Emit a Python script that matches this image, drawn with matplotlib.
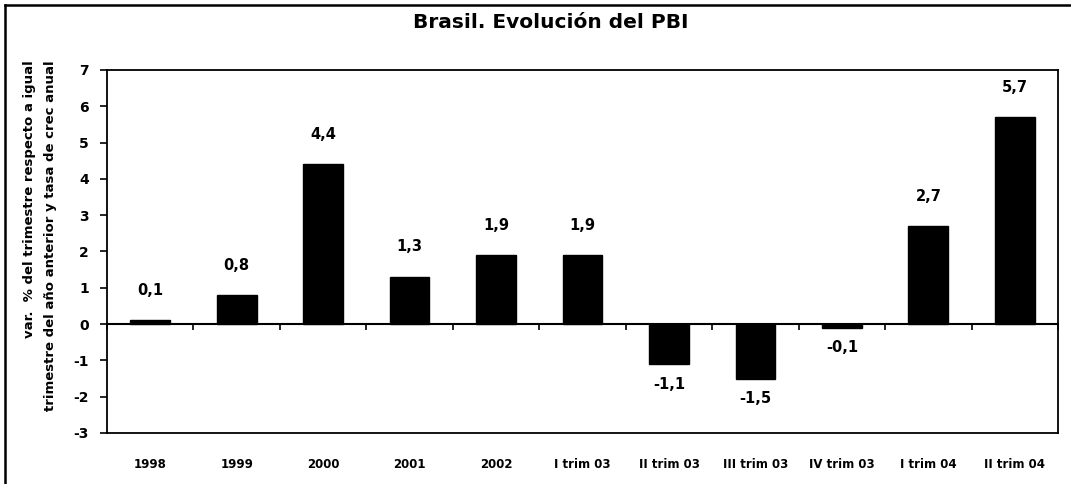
import matplotlib

matplotlib.use("Agg")
import matplotlib.pyplot as plt
import numpy as np
from matplotlib.lines import Line2D

# values
categories = ["1998", "1999", "2000", "2001", "2002", "I trim 03", "II trim 03",
              "III trim 03", "IV trim 03", "I trim 04", "II trim 04"]
values = [0.1, 0.8, 4.4, 1.3, 1.9, 1.9, -1.1, -1.5, -0.1, 2.7, 5.7]
y_ticks = list(range(-3, 8))

plt.rcParams["font.family"] = ["DejaVu Sans"]
plt.rcParams["font.weight"] = "bold"

fig = plt.figure(figsize=(10.71, 4.84), dpi=100)
ax = fig.add_axes([107 / 1071, 51 / 484, 951 / 1071, 363 / 484])

x = np.arange(len(categories))
ax.bar(x, values, width=0.46, color="black", edgecolor="black", zorder=3)

ax.set_xlim(-0.5, len(categories) - 0.5)
ax.set_ylim(-3, 7)
ax.set_yticks(y_ticks)
ax.set_yticklabels([str(t) for t in y_ticks], fontsize=10, fontweight="bold")
ax.set_xticks(x)
ax.set_xticklabels(categories, fontsize=8.5, fontweight="bold")
ax.tick_params(axis="x", length=0, pad=18)
ax.tick_params(axis="y", direction="out", length=5, width=1.2, pad=8)
for sp in ax.spines.values():
    sp.set_linewidth(1.3)

# zero line with small ticks at category boundaries
zero = ax.secondary_xaxis(3 / 10)
zero.set_xticks(np.arange(-0.5, len(categories), 1.0))
zero.set_xticklabels([])
zero.tick_params(direction="out", length=4, width=1.2)
zero.spines["bottom"].set_linewidth(1.5)

# value labels
for xi, v in zip(x, values):
    lbl = f"{v:.1f}".replace(".", ",")
    off = 30 if v >= 0 else -20
    ax.annotate(lbl, (xi, v), xytext=(0, off), textcoords="offset pixels",
                ha="center", va="center", fontsize=10.5, fontweight="bold")

fig.text(551 / 1071, 1 - 22 / 484, "Brasil. Evolución del PBI", ha="center",
         va="center", fontsize=14.5, fontweight="heavy")

fig.text(30 / 1071, 1 - 60 / 484, "var.  % del trimestre respecto a igual",
         rotation=90, ha="center", va="top", fontsize=9.5, fontweight="bold")
fig.text(51 / 1071, 1 - 60 / 484, "trimestre del año anterior y tasa de crec anual",
         rotation=90, ha="center", va="top", fontsize=9.5, fontweight="bold")

# outer frame: only its top and left edges fall inside the picture
fx, fy = 5 / 1071, 1 - 5 / 484
fig.add_artist(Line2D([fx, 1.0], [fy, fy], transform=fig.transFigure,
                      color="black", linewidth=1.8))
fig.add_artist(Line2D([fx, fx], [0.0, fy], transform=fig.transFigure,
                      color="black", linewidth=1.8))

fig.savefig("out.png", dpi=100)
